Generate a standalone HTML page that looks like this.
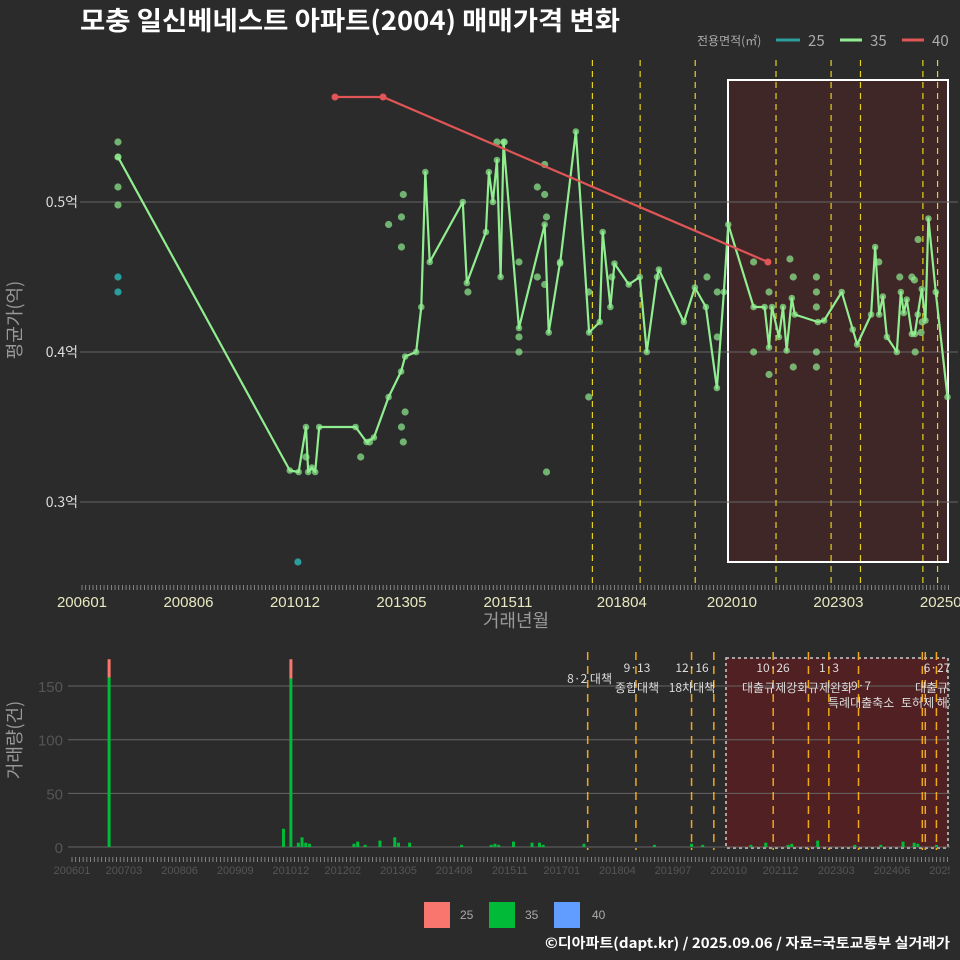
<!DOCTYPE html>
<html><head><meta charset="utf-8">
<style>
html,body{margin:0;padding:0;background:#2b2b2b;}
svg{display:block;font-family:"Liberation Sans","Noto Sans CJK KR",sans-serif;}
</style></head>
<body>
<svg id="c" width="960" height="960" viewBox="0 0 960 960" xmlns="http://www.w3.org/2000/svg">
<rect x="0" y="0" width="960" height="960" fill="#2b2b2b"/>
<text x="80" y="30" fill="#ffffff" font-size="26" font-weight="bold" font-family="'Noto Sans CJK KR',sans-serif" textLength="540" lengthAdjust="spacingAndGlyphs">모충 일신베네스트 아파트(2004) 매매가격 변화</text>
<g font-family="'Noto Sans CJK KR',sans-serif">
<text x="697" y="45" fill="#aaaaaa" font-size="12">전용면적(㎡)</text>
<line x1="776" y1="40" x2="800" y2="40" stroke="#2a9d9d" stroke-width="3"/>
<text x="808" y="46" fill="#aaaaaa" font-size="15">25</text>
<line x1="840" y1="40" x2="862" y2="40" stroke="#90ee90" stroke-width="3"/>
<text x="870" y="46" fill="#aaaaaa" font-size="15">35</text>
<line x1="902" y1="40" x2="924" y2="40" stroke="#e05555" stroke-width="3"/>
<text x="932" y="46" fill="#aaaaaa" font-size="15">40</text>
</g>
<g id="topPanel"></g>
<g id="botPanel"></g>
<g>
<rect x="424" y="902" width="26" height="26" fill="#f8766d"/>
<text x="460" y="919" fill="#aaaaaa" font-size="12">25</text>
<rect x="489" y="902" width="26" height="26" fill="#00ba38"/>
<text x="525" y="919" fill="#aaaaaa" font-size="12">35</text>
<rect x="554" y="902" width="26" height="26" fill="#619cff"/>
<text x="592" y="919" fill="#aaaaaa" font-size="12">40</text>
</g>
<text x="950" y="948" text-anchor="end" fill="#ffffff" font-size="14" font-weight="bold" font-family="'Noto Sans CJK KR',sans-serif" textLength="405" lengthAdjust="spacingAndGlyphs">©디아파트(dapt.kr) / 2025.09.06 / 자료=국토교통부 실거래가</text>
</svg>
<script>
// ---- data (month index from 2006-01) ----
const line35M=[9.8,56.6,59,61,61.6,62.6,63.5,64.6,74.5,77.5,79.5,83.5,86.9,88,91,92.4,93.5,94.7,103.7,104.8,110,110.8,111.9,113,114,114.8,119,126,127.1,130.2,130.2,134.5,138.1,141,141.8,143.9,145,148.9,151.9,153.8,156.6,157.1,163.9,166.9,169.9,172.9,174.8,176,182.9,185.9,187.1,187.9,189.8,190.9,191.9,193.3,194.1,200.4,202.1,206.9,209.9,211.1,214.9,216,217.1,218.1,219.2,221.9,223,223.8,224.6,226,226.8,227.6,228.7,229.7,230.5,232.5,235.7];
const line35V=[0.53,0.321,0.32,0.35,0.32,0.323,0.32,0.35,0.35,0.34,0.343,0.37,0.387,0.397,0.4,0.43,0.52,0.46,0.5,0.446,0.48,0.52,0.5,0.528,0.45,0.54,0.416,0.485,0.413,0.46,0.459,0.547,0.413,0.42,0.48,0.43,0.459,0.445,0.45,0.4,0.45,0.455,0.42,0.443,0.43,0.376,0.44,0.485,0.43,0.43,0.403,0.43,0.41,0.43,0.401,0.436,0.425,0.42,0.421,0.44,0.415,0.405,0.425,0.47,0.425,0.437,0.41,0.4,0.44,0.426,0.435,0.412,0.412,0.425,0.442,0.421,0.489,0.44,0.37];
const pts35M=[9.8,9.8,9.8,9.8,83.5,87,87.5,87,88,61,75.9,87,87.5,78.3,105.1,113,115,119,119,119,124,126,126.5,124,126,126,126.5,138,138,144.3,170.2,173,173,182.9,182.9,187.1,187.1,192.8,193.7,193.7,200,200,200,200,200,217,222.7,226,226.7,227.7,226.9,228.5,228.8];
const pts35V=[0.54,0.53,0.51,0.498,0.485,0.49,0.505,0.47,0.36,0.33,0.33,0.35,0.34,0.34,0.44,0.54,0.54,0.46,0.41,0.4,0.51,0.505,0.49,0.45,0.445,0.525,0.32,0.44,0.37,0.45,0.45,0.44,0.41,0.46,0.4,0.44,0.385,0.462,0.45,0.39,0.44,0.45,0.43,0.4,0.39,0.46,0.45,0.45,0.448,0.475,0.4,0.413,0.42];
const pts25M=[9.8,9.8,58.8];
const pts25V=[0.45,0.44,0.26];
const line40M=[68.9,82,186.8];
const line40V=[0.57,0.57,0.46];
const xTickLabels=["200601","200806","201012","201305","201511","201804","202010","202303","202508"];
const xTickMonths=[0,29,58,87,116,147,177,206,235];
const yTickVals=[0.3,0.4,0.5];
const yTickLabels=["0.3억","0.4억","0.5억"];
const policyTopM=[139,152,167,189,204,212,229,233];
const policyBotM=[139,152,167,173,189,198.5,204,212,229.2,230,233];
// volume
const volM=[10,59,57,61,62,63,64,76,77,79,83,87,88,91,105,113,114,115,119,124,126,127,138,157,167,170,183,187,193,194,201,211,218,224,227,228,233];
const vol35=[158,157,17,4,9,4,3,3,5,2,6,9,4,4,2,2,3,2,5,4,4,2,3,2,3,2,2,4,2,3,6,2,2,5,4,3,2];
const vol25=[17,18,0,0,0,0,0,0,0,0,0,0,0,0,0,0,0,0,0,0,0,0,0,0,0,0,0,0,0,0,0,0,0,0,0,0,0];
const botTickLabels=["200601","200703","200806","200909","201012","201202","201305","201408","201511","201701","201804","201907","202010","202112","202303","202406","202509"];
const botTickMonths=[0,14,29,44,59,73,88,103,118,132,147,162,177,191,206,221,236];
const volTicks=[0,50,100,150];

const NS="http://www.w3.org/2000/svg";
function mk(tag,attrs,parent,text){const e=document.createElementNS(NS,tag);for(const k in attrs)e.setAttribute(k,attrs[k]);if(text!==undefined)e.textContent=text;parent.appendChild(e);return e;}
const xT=m=>82+m*3.672;
const yT=v=>202+(0.5-v)*1500;
const xB=m=>72+m*3.71;
const yB=v=>847-v*1.073;

const topG=document.getElementById('topPanel');


let r=mk('rect',{x:728,y:80,width:220,height:482,fill:'#5a1e22',"fill-opacity":0.42,stroke:'#ffffff',"stroke-width":2},topG);


yTickVals.forEach((v,i)=>{
  let g=mk('line',{x1:80,x2:958,y1:yT(v),y2:yT(v),stroke:'#666',"stroke-width":1},topG);
  
  
  let t=mk('text',{x:78,y:yT(v)+5,"text-anchor":"end",fill:'#dddddd',"font-size":14,"font-family":"'Noto Sans CJK KR',sans-serif"},topG,yTickLabels[i]);
  
  
});
policyTopM.forEach(m=>{
  let l=mk('line',{x1:xT(m),x2:xT(m),y1:60,y2:585,stroke:'#e6d21e',"stroke-width":1.2,"stroke-dasharray":"6,5"},topG);
  
  
});
for(let m=0;m<=236;m++){let l=mk('line',{x1:xT(m),x2:xT(m),y1:585,y2:590,stroke:'#999',"stroke-width":0.8},topG);

}
xTickLabels.forEach((s,i)=>{let t=mk('text',{x:xT(xTickMonths[i]),y:607,"text-anchor":"middle",fill:'#e8e8c0',"font-size":15},topG,s);

});
let xt=mk('text',{x:516,y:627,"text-anchor":"middle",fill:'#999',"font-size":18,"font-family":"'Noto Sans CJK KR',sans-serif"},topG,'거래년월');


let yt=mk('text',{x:0,y:0,transform:'translate(21,320) rotate(-90)',"text-anchor":"middle",fill:'#999',"font-size":18,"font-family":"'Noto Sans CJK KR',sans-serif"},topG,'평균가(억)');


pts35M.forEach((m,i)=>{let c=mk('circle',{cx:xT(m),cy:yT(pts35V[i]),r:3.6,fill:'#90ee90',"fill-opacity":0.7},topG);

});
line35M.forEach((m,i)=>{let c=mk('circle',{cx:xT(m),cy:yT(line35V[i]),r:3.3,fill:'#90ee90',"fill-opacity":0.7},topG);

});
pts25M.forEach((m,i)=>{let c=mk('circle',{cx:xT(m),cy:yT(pts25V[i]),r:3.6,fill:'#2a9d9d'},topG);

});
let p35=mk('polyline',{points:line35M.map((m,i)=>xT(m)+','+yT(line35V[i])).join(' '),fill:'none',stroke:'#90ee90',"stroke-width":2.2,"stroke-linejoin":"round"},topG);


let p40=mk('polyline',{points:line40M.map((m,i)=>xT(m)+','+yT(line40V[i])).join(' '),fill:'none',stroke:'#e05555',"stroke-width":2.2},topG);


line40M.forEach((m,i)=>{let c=mk('circle',{cx:xT(m),cy:yT(line40V[i]),r:3.5,fill:'#e05555'},topG);

});

const botG=document.getElementById('botPanel');


let r2=mk('rect',{x:726,y:658,width:222,height:190,fill:'#5a1e22',"fill-opacity":0.8,stroke:'#cccccc',"stroke-width":1.5,"stroke-dasharray":"3,3"},botG);


volTicks.forEach(v=>{
  let g=mk('line',{x1:68,x2:950,y1:yB(v),y2:yB(v),stroke:'#666',"stroke-width":1},botG);
  
  
  let t=mk('text',{x:63,y:yB(v)+6,"text-anchor":"end",fill:'#555',"font-size":15},botG,String(v));
  
  
});
policyBotM.forEach(m=>{
  let l=mk('line',{x1:xB(m),x2:xB(m),y1:652,y2:850,stroke:'#f0a818',"stroke-width":1.5,"stroke-dasharray":"8,6"},botG);
  
  
});
volM.forEach((m,i)=>{
  let b=mk('rect',{x:xB(m)-1.5,y:yB(vol35[i]),width:3,height:vol35[i]*1.073,fill:'#00ba38'},botG);
  
  
  if(vol25[i]>0){let b2=mk('rect',{x:xB(m)-1.5,y:yB(vol35[i]+vol25[i]),width:3,height:vol25[i]*1.073,fill:'#f8766d'},botG);
  
  }
});
for(let m=0;m<=236;m++){let l=mk('line',{x1:xB(m),x2:xB(m),y1:857,y2:862,stroke:'#999',"stroke-width":0.8},botG);

}
botTickLabels.forEach((s,i)=>{let t=mk('text',{x:xB(botTickMonths[i]),y:874,"text-anchor":"middle",fill:'#555',"font-size":11},botG,s);

});
let yt2=mk('text',{x:0,y:0,transform:'translate(21,740) rotate(-90)',"text-anchor":"middle",fill:'#999',"font-size":18,"font-family":"'Noto Sans CJK KR',sans-serif"},botG,'거래량(건)');


const ann=[["8·2 대책",612,683,"end"],["9·13",637,672,"middle"],["종합대책",637,692,"middle"],["12·16",692,672,"middle"],["18차대책",692,692,"middle"],["10·26",773,672,"middle"],["대출규제강화",742,692,"start"],["1·3",829,672,"middle"],["규제완화",808,692,"start"],["9·7",851,690,"start"],["특례대출축소",828,707,"start"],["토허제 해제",901,707,"start"],["6·27",937,672,"middle"],["대출규제",915,692,"start"]];
ann.forEach(a=>{let t=mk('text',{x:a[1],y:a[2],"text-anchor":a[3],fill:'#dddddd',"font-size":12,"font-family":"'Noto Sans CJK KR',sans-serif"},botG,a[0]);

});
let clip=mk('rect',{x:950,y:640,width:10,height:240,fill:'#2b2b2b'},botG);


</script>
</body></html>
